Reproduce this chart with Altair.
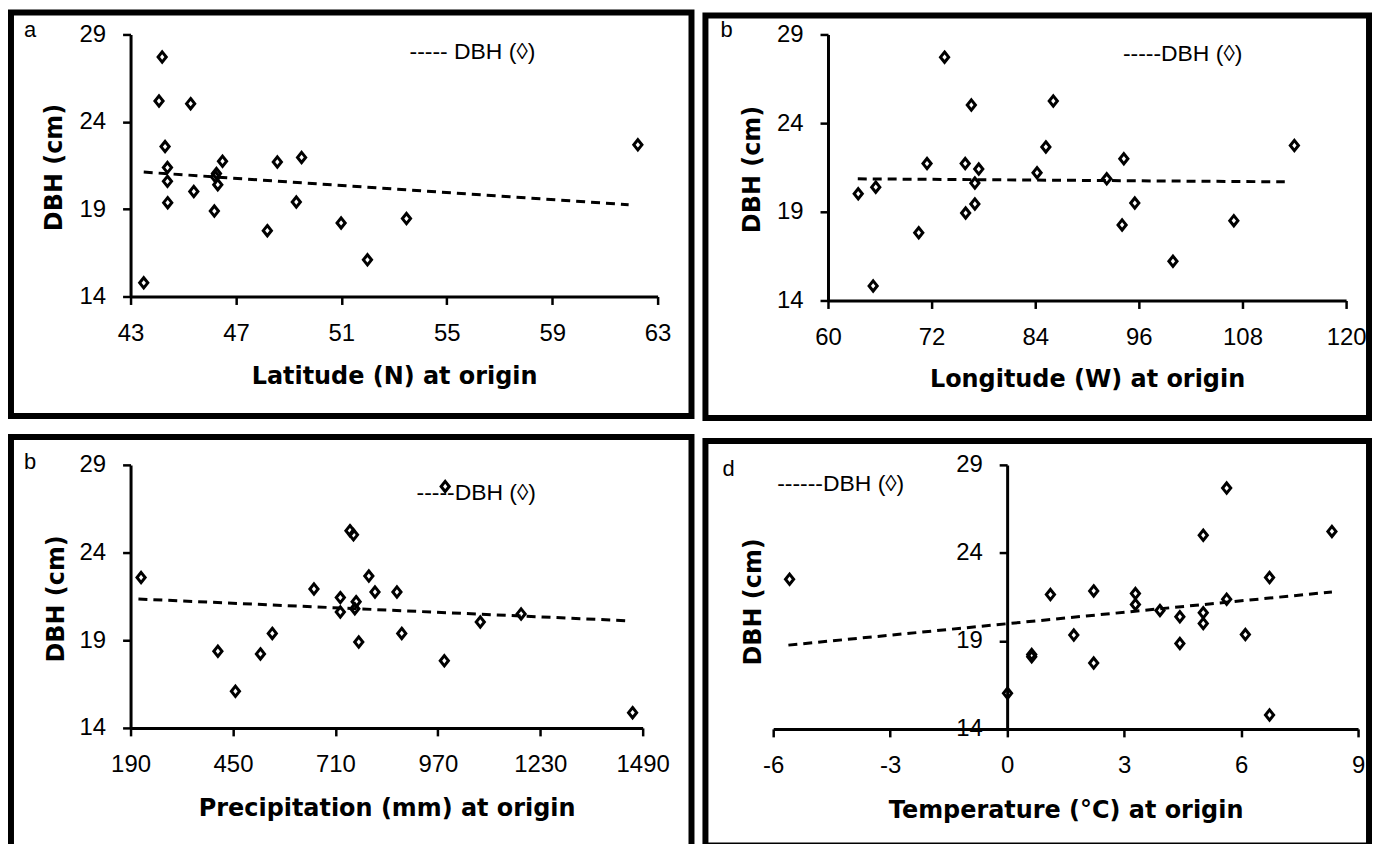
import altair as alt
import pandas as pd

# ---------------- data ----------------
# Panel a: latitude
lat_x = [44.20, 44.08, 45.28, 44.31, 44.40, 44.40, 44.41, 45.40, 46.18, 46.26, 46.22,
         46.31, 46.49, 48.19, 48.57, 49.49, 49.29, 50.99, 51.99, 53.47, 62.25, 43.50]
lat_dbh = [27.71, 25.19, 25.04, 22.58, 21.38, 20.59, 19.37, 20.01, 18.89, 21.04, 20.85,
           20.40, 21.74, 17.77, 21.70, 21.96, 19.41, 18.21, 16.10, 18.46, 22.68, 14.78]
lat_trend_x = [43.5, 61.9]
lat_trend_y = [21.12, 19.25]
lat_ticks = [43, 47, 51, 55, 59, 63]

# Panel b: longitude
lon_x = [73.50, 76.60, 86.09, 85.23, 114.01, 71.47, 75.89, 77.46, 84.21, 92.28, 94.26,
         77.01, 65.53, 63.50, 77.01, 75.94, 95.53, 70.51, 94.06, 107.0, 99.95, 65.23]
lon_dbh = [27.72, 25.02, 25.25, 22.66, 22.74, 21.72, 21.72, 21.41, 21.20, 20.86, 21.99,
           20.62, 20.39, 20.02, 19.44, 18.93, 19.49, 17.82, 18.26, 18.50, 16.21, 14.82]
lon_trend_x = [63.45, 112.9]
lon_trend_y = [20.86, 20.69]
lon_ticks = [60, 72, 84, 96, 108, 120]

# Panel c: precipitation
pre_x = [216.7, 411.7, 456.2, 519.7, 549.8, 655.6, 722.5, 722.5, 747.0, 755.9, 762.6,
         759.3, 769.3, 794.9, 810.5, 866.2, 878.4, 986.5, 1077.8, 1181.4, 1464.4, 988.7]
pre_dbh = [22.58, 18.37, 16.09, 18.22, 19.39, 21.92, 21.43, 20.61, 25.25, 25.01, 21.20,
           20.80, 18.90, 22.66, 21.75, 21.75, 19.39, 17.83, 20.04, 20.50, 14.87, 27.77]
pre_trend_x = [210, 1453]
pre_trend_y = [21.35, 20.11]
pre_ticks = [190, 450, 710, 970, 1230, 1490]

# Panel d: temperature
tem_x = [-5.58, 0.01, 0.63, 0.63, 1.11, 1.71, 2.22, 2.22, 3.29, 3.29, 3.92,
         4.43, 4.43, 5.03, 5.03, 5.03, 5.63, 5.63, 6.11, 6.73, 6.73, 8.33]
tem_dbh = [22.50, 16.02, 18.23, 18.10, 21.63, 19.33, 21.84, 17.74, 21.69, 21.07, 20.73,
           20.37, 18.85, 25.00, 20.60, 19.99, 27.68, 21.37, 19.36, 22.60, 14.79, 25.22]
tem_trend_x = [-5.61, 8.33]
tem_trend_y = [18.76, 21.78]
tem_ticks = [-6, -3, 0, 3, 6, 9]

y_ticks = [14, 19, 24, 29]
y_title = "DBH (cm)"

DIAMOND = "M0,-1L0.8,0L0,1L-0.8,0Z"
LABEL_FONT = "Liberation Sans"
TITLE_FONT = "DejaVu Sans"
PLAIN = "'' + datum.value"


def make_panel(xs, ys, tx, ty, xdom, xticks, xtitle, W, H, box, legend, leg_pos,
               letter, letter_pos, ytitle_pos, xtitle_y, y_axis_offset=None):
    pts = pd.DataFrame({"x": xs, "y": ys})
    trend = pd.DataFrame({"x": tx, "y": ty})
    one = pd.DataFrame({"k": [0]})

    xaxis = alt.Axis(values=xticks, title=xtitle, titleY=xtitle_y,
                     titleBaseline="alphabetic", titleAlign="center",
                     labelExpr=PLAIN, labelFlush=False, labelOverlap=False)
    yargs = dict(values=y_ticks, title=y_title, titleX=ytitle_pos[0], titleY=ytitle_pos[1],
                 titleAngle=270, titleAlign="center", titleBaseline="middle",
                 labelExpr=PLAIN, labelFlush=False, labelOverlap=False)
    if y_axis_offset is not None:
        yargs["offset"] = y_axis_offset
    yaxis = alt.Axis(**yargs)

    xenc = alt.X("x:Q", scale=alt.Scale(domain=xdom, nice=False, zero=False), axis=xaxis)
    yenc = alt.Y("y:Q", scale=alt.Scale(domain=[14, 29], nice=False, zero=False), axis=yaxis)

    frame = alt.Chart(one).mark_rect(fillOpacity=0, stroke="black", strokeWidth=6).encode(
        x=alt.value(box[0]), x2=alt.value(box[1]), y=alt.value(box[2]), y2=alt.value(box[3]))

    line = alt.Chart(trend).mark_line(color="black", strokeWidth=3,
                                      strokeDash=[9, 6]).encode(x=xenc, y=yenc)
    points = alt.Chart(pts).mark_point(shape=DIAMOND, size=105, filled=False,
                                       color="black", strokeWidth=3,
                                       opacity=1).encode(x=xenc, y=yenc)
    leg = alt.Chart(one).mark_text(text=legend, align="left", baseline="alphabetic",
                                   font=LABEL_FONT, fontSize=23, color="black").encode(
        x=alt.value(leg_pos[0]), y=alt.value(leg_pos[1]))
    let = alt.Chart(one).mark_text(text=letter, align="left", baseline="alphabetic",
                                   font=LABEL_FONT, fontSize=22, color="black").encode(
        x=alt.value(letter_pos[0]), y=alt.value(letter_pos[1]))

    return alt.layer(frame, line, points, leg, let).properties(width=W, height=H)


pa = make_panel(lat_x, lat_dbh, lat_trend_x, lat_trend_y, [43, 63], lat_ticks,
                "Latitude (N) at origin", 529, 263, (-120, 563, -22, 383),
                "----- DBH (\u25ca)", (280, 25), "a", (-107, 3), (-76, 133), 87)

pb = make_panel(lon_x, lon_dbh, lon_trend_x, lon_trend_y, [60, 120], lon_ticks,
                "Longitude (W) at origin", 520, 267, (-123, 543, -19, 385),
                "-----DBH (\u25ca)", (296, 27), "b", (-108, 3), (-76, 135), 86)

pc = make_panel(pre_x, pre_dbh, pre_trend_x, pre_trend_y, [190, 1490], pre_ticks,
                "Precipitation (mm) at origin", 514, 264, (-120, 563, -28, 387),
                "-----DBH (\u25ca)", (287, 35), "b", (-107, 4), (-74, 134), 88)

W_d = 587
d_axis_shift = W_d * (0 - (-6)) / 15.0
pd_ = make_panel(tem_x, tem_dbh, tem_trend_x, tem_trend_y, [-6, 9], tem_ticks,
                 "Temperature (\u00b0C) at origin", W_d, 265, (-68, 598, -24, 382),
                 "------DBH (\u25ca)", (4, 26), "d", (-51, 11), (-255, 137), 89,
                 y_axis_offset=-d_axis_shift)

row1 = alt.hconcat(pa, pb, spacing=8)
row2 = alt.hconcat(pc, pd_, spacing=8)

chart = alt.vconcat(row1, row2, spacing=13).properties(
    padding=0, background="white"
).configure_view(strokeWidth=0).configure_axis(
    grid=False,
    domainColor="black", domainWidth=3,
    tickColor="black", tickWidth=2.5, tickSize=8,
    labelFont=LABEL_FONT, labelFontSize=24, labelColor="black", labelPadding=17,
    titleFont=TITLE_FONT, titleFontSize=24, titleFontWeight="bold", titleColor="black",
)

chart.save("out.html", embed_options={"renderer": "svg", "actions": False})
